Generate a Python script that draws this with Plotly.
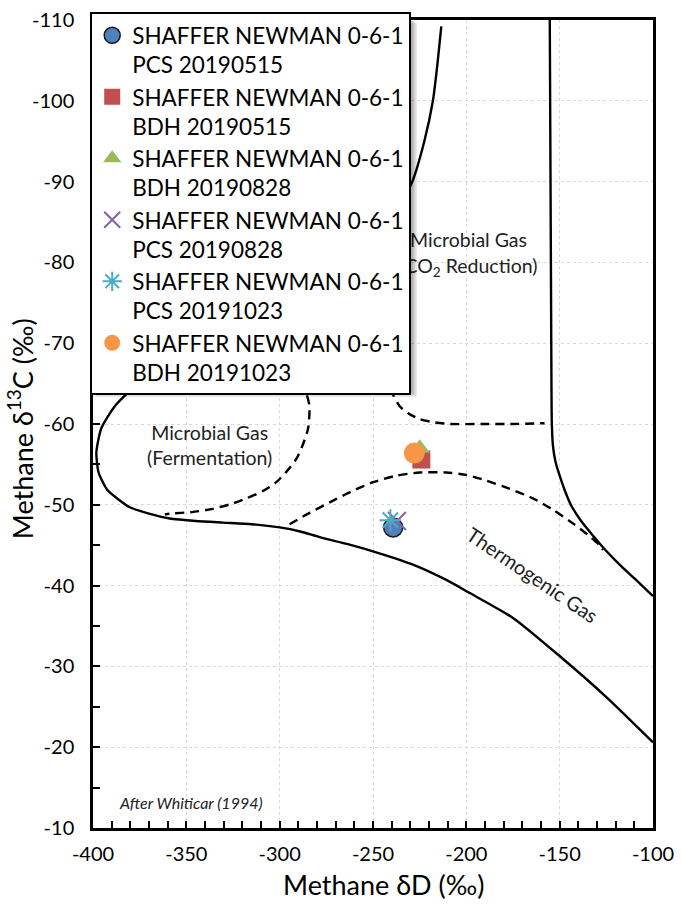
import plotly.graph_objects as go

# ---------------- sample data ----------------
sample_names = [
    "SHAFFER NEWMAN 0-6-1<br>PCS 20190515",
    "SHAFFER NEWMAN 0-6-1<br>BDH 20190515",
    "SHAFFER NEWMAN 0-6-1<br>BDH 20190828",
    "SHAFFER NEWMAN 0-6-1<br>PCS 20190828",
    "SHAFFER NEWMAN 0-6-1<br>PCS 20191023",
    "SHAFFER NEWMAN 0-6-1<br>BDH 20191023",
]
sample_dD = [-239.2, -224.1, -225.0, -237.2, -240.7, -227.9]
sample_d13C = [-47.2, -55.6, -57.0, -48.0, -48.1, -56.4]
sample_symbols = ["circle", "square", "triangle-up", "x-thin", "asterisk-open", "circle"]
sample_colors = ["#4F81BD", "#C0504D", "#9BBB59", "#8064A2", "#4BACC6", "#F79646"]

# ---------------- Whiticar (1994) field boundaries ----------------
# solid boundary: microbial fermentation / thermogenic lower limit
solidA_dD = [-213.4, -215.5, -217.9, -222.5, -229.1, -245, -270, -310, -350, -375,
             -388, -395.5, -398.2, -397.0, -392.5, -386, -380.3, -370, -358.9, -345,
             -330.4, -315, -300, -289, -278.6, -263, -246.6, -228.6, -210.7, -199.1,
             -175.0, -149.1, -125.0, -100]
solidA_d13C = [-109.2, -104.5, -100, -95, -89.9, -83, -77, -72, -68, -65.1,
               -62.3, -59.5, -56.5, -54.0, -51.9, -50.6, -49.7, -48.9, -48.3, -48.0,
               -47.8, -47.6, -47.2, -46.7, -46.0, -45.1, -44.0, -42.6, -40.7, -39.2,
               -36.0, -31.1, -26.2, -20.6]
# solid boundary: CO2 reduction / thermogenic right limit
solidB_dD = [-155.3, -154.9, -154.6, -154.4, -154.2, -153.6, -152.2, -150, -147.3,
             -143.8, -138.5, -132.2, -125.5, -117.9, -109.5, -100]
solidB_d13C = [-110, -90, -75, -65, -60, -57.3, -55.3, -53.6, -51.8,
               -49.9, -48.0, -46.2, -44.4, -42.6, -40.8, -38.7]
# dashed: fermentation field
dashC_dD = [-300, -290, -288.4, -285.5, -284, -284.8, -287.5, -291, -296, -301.8,
            -309, -317.8, -326, -335.7, -347, -358.9, -361.5]
dashC_d13C = [-72, -68, -65.1, -63.6, -62.2, -59.4, -57.5, -55.7, -54.2, -52.8,
              -51.7, -50.8, -50.1, -49.5, -49.1, -48.9, -48.8]
# dashed: CO2 reduction field
dashD_dD = [-255, -248, -241.9, -239, -235.7, -231, -225, -217, -208.9, -190, -175, -158.1]
dashD_d13C = [-75, -70, -65.1, -63.5, -62.2, -61.3, -60.6, -60.2, -60.0, -60.0, -60.0, -60.1]
# dashed: thermogenic upper limit
dashE_dD = [-294.7, -284, -273.2, -262, -250, -237.5, -225, -210.7, -200, -189.3,
            -177, -164.3, -153, -142.9, -135, -128.6, -126.8]
dashE_d13C = [-47.6, -49.0, -50.3, -51.6, -52.8, -53.6, -54.0, -54.0, -53.7, -53.0,
              -52.0, -50.8, -49.3, -47.7, -46.3, -45.0, -44.4]

# ---------------- region labels ----------------
label_text = ["Microbial Gas<br>(Fermentation)", "Microbial Gas<br>(CO<sub>2</sub> Reduction)"]
label_dD = [-337.5, -198.8]
label_d13C = [-57.1, -80.9]

x_ticks = [-400, -350, -300, -250, -200, -150, -100]
x_ticklabels = ["-400", "-350", "-300", "-250", "-200", "-150", "-100"]
y_ticks = [-110, -100, -90, -80, -70, -60, -50, -40, -30, -20, -10]
y_ticklabels = ["-110", "-100", "-90", "-80", "-70", "-60", "-50", "-40", "-30", "-20", "-10"]

x_title = "Methane δD (‰)"
y_title = "Methane δ<sup>13</sup>C (‰)"

FONT = "Lato"
fig = go.Figure()

line_style = dict(color="black", width=2.4)
for xs, ys, dash in [(solidA_dD, solidA_d13C, "solid"), (solidB_dD, solidB_d13C, "solid"),
                     (dashC_dD, dashC_d13C, "9px,6px"), (dashD_dD, dashD_d13C, "9px,6px"),
                     (dashE_dD, dashE_d13C, "9px,6px")]:
    fig.add_trace(go.Scatter(x=xs, y=ys, mode="lines",
                             line=dict(line_style, dash=dash, shape="spline", smoothing=0.6),
                             showlegend=False, hoverinfo="skip"))

fig.add_trace(go.Scatter(x=label_dD, y=label_d13C, mode="text", text=label_text,
                         textfont=dict(family=FONT, size=19.5, color="#222"), showlegend=False,
                         hoverinfo="skip"))

sizes = [19, 18, 18, 18, 18, 21]
for i, name in enumerate(sample_names):
    sym = sample_symbols[i]
    col = sample_colors[i]
    if sym in ("x-thin", "asterisk-open"):
        marker = dict(symbol=sym, size=sizes[i], color=col, line=dict(color=col, width=2))
    elif i == 0:
        marker = dict(symbol=sym, size=sizes[i], color=col, line=dict(color="#1a1a1a", width=1.5))
    else:
        marker = dict(symbol=sym, size=sizes[i], color=col, line=dict(width=0))
    fig.add_trace(go.Scatter(x=[sample_dD[i]], y=[sample_d13C[i]], mode="markers", name=name,
                             marker=marker, legendgroup=f"g{i}"))

# legend shadow (soft)
shadow = []
for d in [2, 4, 6]:
    shadow.append(dict(type="rect", xref="paper", yref="paper", layer="above",
                       x0=(90 - 93.3 + d) / 560, x1=(411 - 93.3 + d) / 560,
                       y0=1 - (388 - 15 + d) / 813, y1=1 - (12 - 15 + d) / 813,
                       fillcolor="rgba(0,0,0,0.12)", line=dict(width=0)))

axis_common = dict(showline=True, linecolor="black", linewidth=2.5, mirror=True,
                   ticks="inside", ticklen=7, tickwidth=2, tickcolor="black",
                   showgrid=True, gridcolor="#d9d9d9", gridwidth=1, griddash="dot",
                   zeroline=False, automargin=False,
                   tickfont=dict(family=FONT, size=20, color="black"))

fig.update_layout(
    width=682, height=908,
    margin=dict(l=93, r=29, t=15, b=80),
    plot_bgcolor="white", paper_bgcolor="white",
    font=dict(family=FONT, color="black"),
    xaxis=dict(axis_common, range=[-400, -100], tickvals=x_ticks, ticktext=x_ticklabels,
               minor=dict(dtick=10, tick0=-400, ticks="inside", ticklen=7, tickwidth=2,
                          tickcolor="black", showgrid=False),
               ticklabelstandoff=6),
    yaxis=dict(axis_common, range=[-10, -110], tickvals=y_ticks, ticktext=y_ticklabels,
               minor=dict(dtick=5, tick0=-110, ticks="inside", ticklen=7, tickwidth=2,
                          tickcolor="black", showgrid=False),
               ticklabelstandoff=12),
    legend=dict(x=-0.005, y=1.0097, xanchor="left", yanchor="top", bgcolor="white",
                bordercolor="black", borderwidth=2, valign="top", tracegroupgap=0,
                font=dict(family=FONT, size=22.5, color="black")),
    shapes=shadow,
    annotations=[
        dict(x=0.519, y=-0.0701, xref="paper", yref="paper", text=x_title,
             xanchor="center", yanchor="middle", showarrow=False,
             font=dict(family=FONT, size=27, color="black")),
        dict(x=-0.129, y=0.4945, xref="paper", yref="paper", text=y_title, textangle=-90,
             xanchor="center", yanchor="middle", showarrow=False,
             font=dict(family=FONT, size=27, color="black")),
        dict(x=-164.3, y=-41.3, xref="x", yref="y", text="Thermogenic Gas", textangle=34,
             showarrow=False, font=dict(family=FONT, size=20, color="#222")),
        dict(x=-387.3, y=-13.1, xref="x", yref="y", text="<i>After Whiticar (1994)</i>",
             xanchor="left", showarrow=False, font=dict(family=FONT, size=16, color="#222")),
    ],
)

fig.write_html("out.html", config={"displayModeBar": False},
               post_script="document.body.style.margin='0';")
